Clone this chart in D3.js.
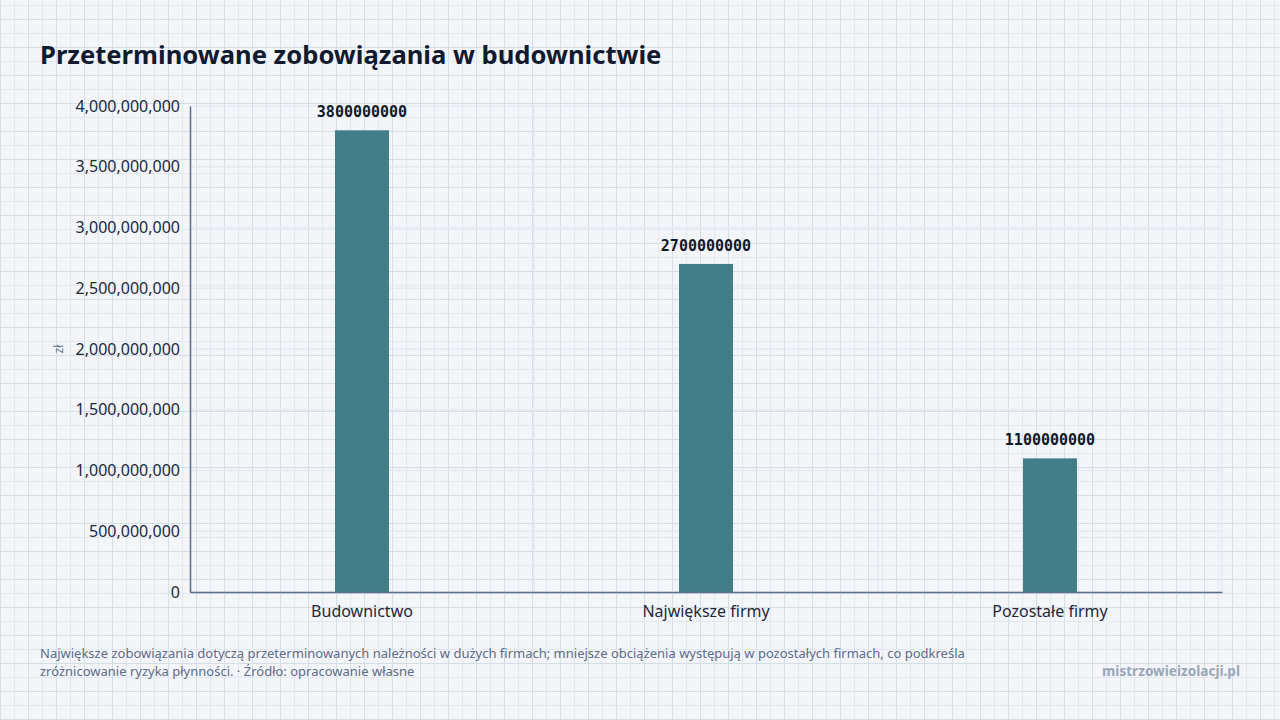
<!DOCTYPE html>
<html lang="pl">
<head>
<meta charset="utf-8">
<script src="https://cdn.jsdelivr.net/npm/d3@7"></script>
<style>
  html, body { margin: 0; padding: 0; }
  body {
    width: 1280px; height: 720px; overflow: hidden;
    background-color: #f3f5f9;
    font-family: "Noto Sans", "Open Sans", sans-serif;
  }
  #chart { position: absolute; left: 0; top: 0; }
</style>
</head>
<body>
<svg id="chart" width="1280" height="720"></svg>
<script>
// Chart data
const categories = ['Budownictwo', 'Największe firmy', 'Pozostałe firmy'];
const values = [3800000000, 2700000000, 1100000000];
const yTicks = [0, 500000000, 1000000000, 1500000000, 2000000000, 2500000000, 3000000000, 3500000000, 4000000000];

const title = 'Przeterminowane zobowiązania w budownictwie';
const yLabel = 'zł';
const noteLines = [
  'Największe zobowiązania dotyczą przeterminowanych należności w dużych firmach; mniejsze obciążenia występują w pozostałych firmach, co podkreśla',
  'zróżnicowanie ryzyka płynności. · Źródło: opracowanie własne'
];
const brand = 'mistrzowieizolacji.pl';

const W = 1280, H = 720;
const margin = { top: 106, right: 58, bottom: 128, left: 190 };

const svg = d3.select('#chart');

// Background paper grid
const bg = svg.append('g').attr('class', 'paper');
for (let x = 0; x <= W; x += 14) {
  bg.append('line')
    .attr('x1', x + 0.5).attr('x2', x + 0.5).attr('y1', 0).attr('y2', H)
    .attr('stroke', x % 28 === 0 ? '#d3dee5' : '#e1e8ef').attr('stroke-width', 1);
}
for (let y = 5; y <= H; y += 14) {
  bg.append('line')
    .attr('y1', y + 0.5).attr('y2', y + 0.5).attr('x1', 0).attr('x2', W)
    .attr('stroke', (y - 19) % 28 === 0 ? '#d3dee5' : '#e1e8ef').attr('stroke-width', 1);
}

const x = d3.scaleBand()
  .domain(categories)
  .range([margin.left, W - margin.right])
  .paddingInner(0)
  .paddingOuter(0);

const y = d3.scaleLinear()
  .domain([0, 4000000000])
  .range([H - margin.bottom, margin.top]);

// Inner grid
const grid = svg.append('g').attr('class', 'grid');
grid.selectAll('line.h')
  .data(yTicks)
  .join('line')
  .attr('class', 'h')
  .attr('x1', margin.left).attr('x2', W - margin.right)
  .attr('y1', d => y(d)).attr('y2', d => y(d))
  .attr('stroke', '#e4e9f2').attr('stroke-width', 1.5);
grid.selectAll('line.v')
  .data(categories.slice(1).concat(['__end']))
  .join('line')
  .attr('class', 'v')
  .attr('x1', d => d === '__end' ? W - margin.right : x(d))
  .attr('x2', d => d === '__end' ? W - margin.right : x(d))
  .attr('y1', margin.top).attr('y2', H - margin.bottom)
  .attr('stroke', '#e4e9f2').attr('stroke-width', 1.5);

// Bars
const barW = 54;
svg.append('g')
  .selectAll('rect')
  .data(values)
  .join('rect')
  .attr('x', (d, i) => x(categories[i]) + x.bandwidth() / 2 - barW / 2)
  .attr('y', d => y(d))
  .attr('width', barW)
  .attr('height', d => y(0) - y(d))
  .attr('fill', '#417e87');

// Value labels
svg.append('g')
  .selectAll('text')
  .data(values)
  .join('text')
  .attr('x', (d, i) => x(categories[i]) + x.bandwidth() / 2)
  .attr('y', d => y(d) - 13)
  .attr('text-anchor', 'middle')
  .attr('font-family', '"DejaVu Sans Mono", monospace')
  .attr('font-weight', 'bold')
  .attr('font-size', 15)
  .attr('fill', '#111827')
  .text(d => d);

// Y axis
const yAxis = svg.append('g')
  .attr('transform', `translate(${margin.left},0)`)
  .call(d3.axisLeft(y).tickValues(yTicks).tickSize(0).tickPadding(10).tickFormat(d3.format(',')));
yAxis.select('.domain').attr('stroke', '#5b6b88').attr('stroke-width', 1.5);
yAxis.selectAll('text')
  .attr('font-family', '"Noto Sans", sans-serif')
  .attr('font-size', 16)
  .attr('fill', '#1e293b');

// X axis
const xAxis = svg.append('g')
  .attr('transform', `translate(0,${H - margin.bottom})`)
  .call(d3.axisBottom(x).tickSize(0).tickPadding(14));
xAxis.select('.domain').attr('stroke', '#5b6b88').attr('stroke-width', 1.5);
xAxis.selectAll('text')
  .attr('font-family', '"Noto Sans", sans-serif')
  .attr('font-size', 16)
  .attr('fill', '#1e293b');

// Y label
svg.append('text')
  .attr('transform', `translate(63,${(margin.top + H - margin.bottom) / 2}) rotate(-90)`)
  .attr('text-anchor', 'middle')
  .attr('font-size', 12)
  .attr('fill', '#64748b')
  .text(yLabel);

// Title
svg.append('text')
  .attr('x', 40).attr('y', 64)
  .attr('font-size', 25.6)
  .attr('font-weight', 'bold')
  .attr('fill', '#111a2e')
  .text(title);

// Footer note
svg.append('g')
  .selectAll('text')
  .data(noteLines)
  .join('text')
  .attr('x', 40)
  .attr('y', (d, i) => 658 + i * 18)
  .attr('font-size', 13)
  .attr('fill', '#5d6b85')
  .text(d => d);

svg.append('text')
  .attr('x', 1240).attr('y', 676)
  .attr('text-anchor', 'end')
  .attr('font-size', 13.6)
  .attr('font-weight', 'bold')
  .attr('fill', '#9aa6ba')
  .text(brand);
</script>
</body>
</html>
